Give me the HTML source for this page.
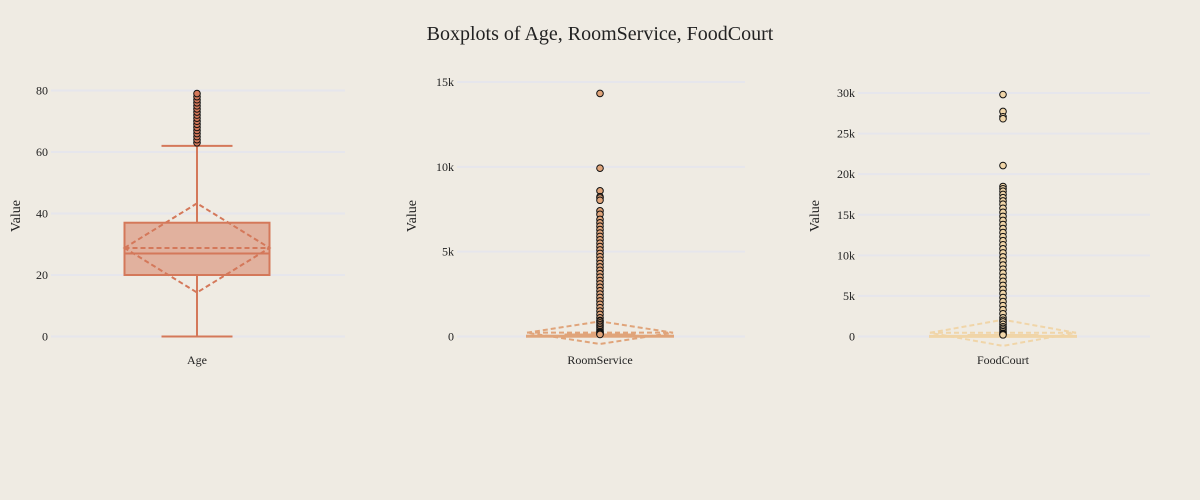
<!DOCTYPE html>
<html><head><meta charset="utf-8">
<style>
body{margin:0;background:#efebe3;}
svg{display:block;font-family:"Liberation Serif",serif;}
</style></head><body>
<svg id="chart" width="1200" height="500">
<rect width="1200" height="500" fill="#efebe3"/>
<text x="600" y="40" text-anchor="middle" font-size="20" fill="#222">Boxplots of Age, RoomService, FoodCourt</text>
</svg>
<script>
const categories = ["Age", "RoomService", "FoodCourt"];
const q1Values = [20, 0, 0];
const medianValues = [27, 0, 0];
const q3Values = [37, 47, 76];
const lowerFences = [0, 0, 0];
const upperFences = [62, 117, 190];
const meanValues = [28.8, 225, 458];
const sdValues = [14.5, 667, 1611];
const ageOutliers = [63,64,65,66,67,68,69,70,71,72,73,74,75,76,77,78,79];
const roomOutliers = [14327,9920,8586,8243,8168,8030,7406,7200,6900,6700,6500,6300,6100,5900,5700,5500,5300,5100,4900,4700,4500,4300,4100,3900,3700,3500,3300,3100,2900,2700,2500,2300,2100,1900,1700,1500,1300,1100,950,900,800,700,600,500,400,300,250,200,150,120];
const foodOutliers = [29813,27723,27071,26830,21066,18481,18200,17900,17500,17100,16700,16300,15800,15300,14800,14300,13800,13300,12800,12300,11800,11300,10800,10300,9800,9300,8800,8300,7800,7300,6800,6300,5800,5300,4800,4300,3800,3300,2800,2300,2000,1800,1500,1200,1000,800,600,400,300,200];
const outlierSets = [ageOutliers, roomOutliers, foodOutliers];
const yTicks = [[0,20,40,60,80],[0,5000,10000,15000],[0,5000,10000,15000,20000,25000,30000]];
const yTickLabels = [["0","20","40","60","80"],["0","5k","10k","15k"],["0","5k","10k","15k","20k","25k","30k"]];

const panels = [
  {x0:51,x1:345,cx:197,bw:145,cap:71,y0:336.5,yTop:90.5,vTop:80,color:"#d4785a",fill:"rgba(212,120,90,0.5)",titleX:15},
  {x0:457,x1:745,cx:600,bw:146,cap:71,y0:336.5,yTop:82,vTop:15000,color:"#e0a47a",fill:"rgba(224,164,122,0.5)",titleX:411},
  {x0:858,x1:1150,cx:1003,bw:146,cap:71,y0:336.5,yTop:93,vTop:30000,color:"#f0d5a8",fill:"rgba(240,213,168,0.5)",titleX:814}
];
const NS="http://www.w3.org/2000/svg";
const svg=document.getElementById('chart');
function mk(tag,attrs,parent){const e=document.createElementNS(NS,tag);for(const k in attrs)e.setAttribute(k,attrs[k]);(parent||svg).appendChild(e);return e;}

panels.forEach((p,i)=>{
  const g=mk('g',{});
  
  
  const y=v=>p.y0-(v/p.vTop)*(p.y0-p.yTop);
  yTicks[i].forEach((t,j)=>{
    const gl=mk('line',{x1:p.x0,x2:p.x1,y1:y(t),y2:y(t),stroke:"#e6e6ec","stroke-width":2},g);
    
    
    const tl=mk('text',{x:p.x0-3,y:y(t)+4,"text-anchor":"end","font-size":12,fill:"#222"},g);
    tl.textContent=yTickLabels[i][j];
    
    
  });
  const yt=mk('text',{transform:`translate(${p.titleX+5},216) rotate(-90)`,"text-anchor":"middle","font-size":14,fill:"#222"},g);
  yt.textContent="Value";
  
  
  const xl=mk('text',{x:p.cx,y:364,"text-anchor":"middle","font-size":12,fill:"#222"},g);
  xl.textContent=categories[i];
  
  
  const bl=p.cx-p.bw/2, br=p.cx+p.bw/2;
  const w1=mk('line',{x1:p.cx,x2:p.cx,y1:y(q3Values[i]),y2:y(upperFences[i]),stroke:p.color,"stroke-width":2},g);
  
  
  const w2=mk('line',{x1:p.cx,x2:p.cx,y1:y(q1Values[i]),y2:y(lowerFences[i]),stroke:p.color,"stroke-width":2},g);
  
  
  [upperFences[i],lowerFences[i]].forEach(v=>{
    const c=mk('line',{x1:p.cx-p.cap/2,x2:p.cx+p.cap/2,y1:y(v),y2:y(v),stroke:p.color,"stroke-width":2},g);
    
    
  });
  const box=mk('rect',{x:bl,y:y(q3Values[i]),width:p.bw,height:Math.max(1,y(q1Values[i])-y(q3Values[i])),fill:p.fill,stroke:p.color,"stroke-width":2},g);
  
  
  const md=mk('line',{x1:bl,x2:br,y1:y(medianValues[i]),y2:y(medianValues[i]),stroke:p.color,"stroke-width":2},g);
  
  
  const m=meanValues[i], s=sdValues[i];
  const mn=mk('line',{x1:bl,x2:br,y1:y(m),y2:y(m),stroke:p.color,"stroke-width":2,"stroke-dasharray":"5,3"},g);
  
  
  const dm=mk('polygon',{points:`${bl},${y(m)} ${p.cx},${y(m+s)} ${br},${y(m)} ${p.cx},${y(m-s)}`,fill:"none",stroke:p.color,"stroke-width":2,"stroke-dasharray":"5,3"},g);
  
  
  outlierSets[i].forEach(v=>{
    const c=mk('circle',{cx:p.cx,cy:y(v),r:3.3,fill:p.color,stroke:"#111","stroke-width":1},g);
    
    
  });
});
</script>
</body></html>
